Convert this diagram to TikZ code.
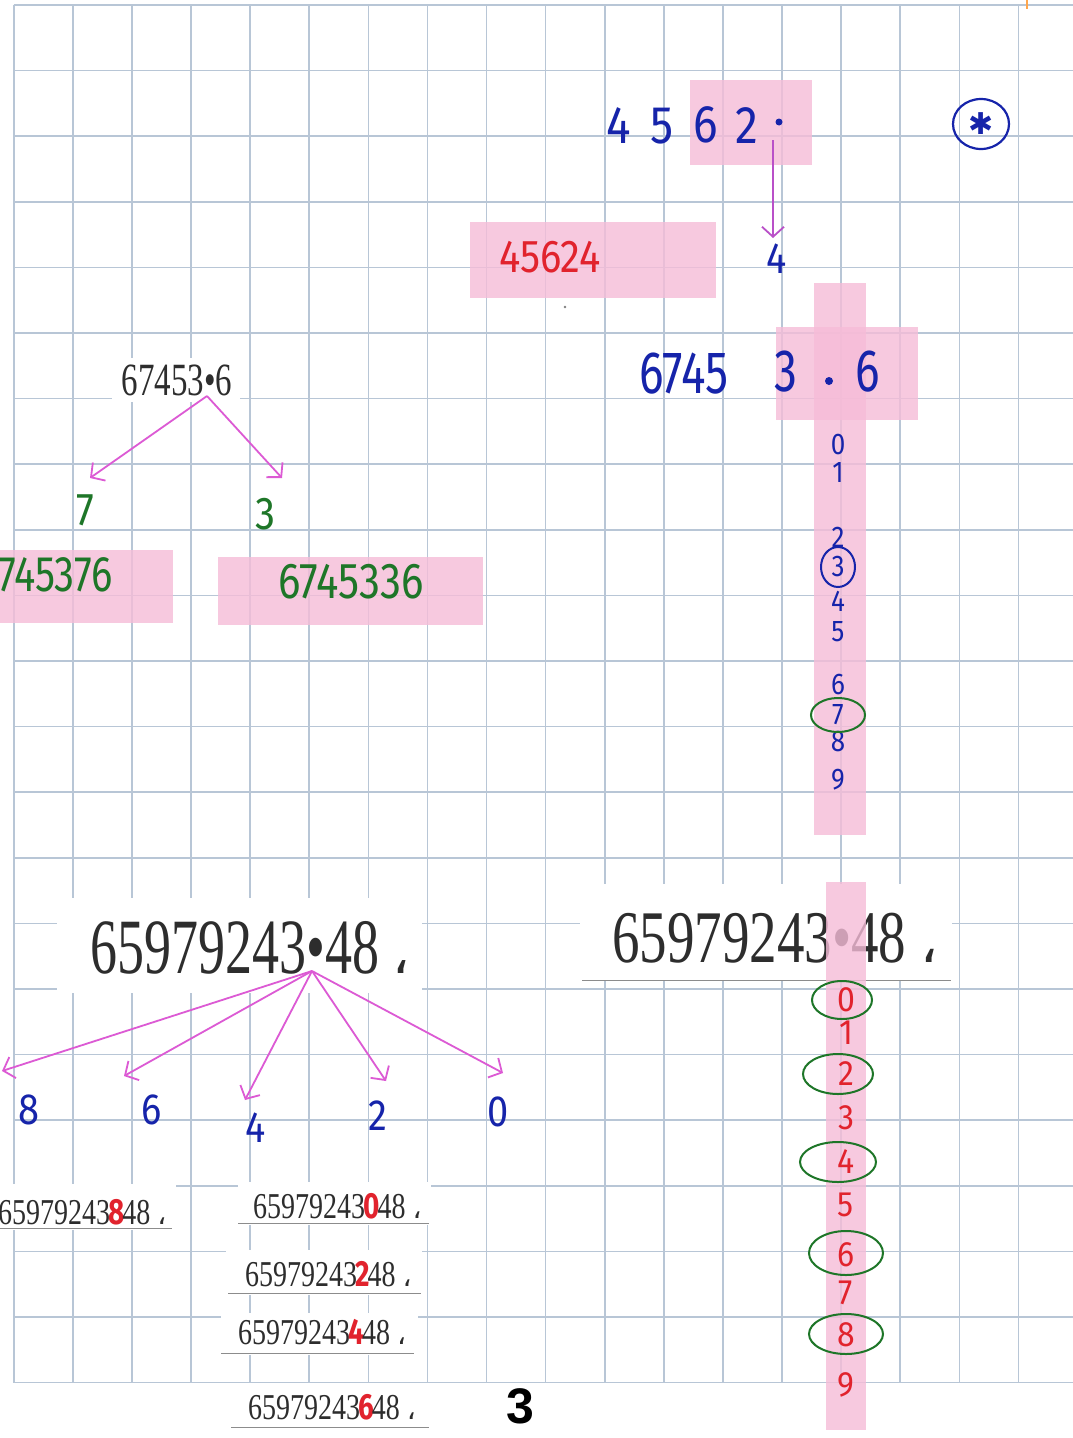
\documentclass[tikz,border=0pt]{standalone}
\usepackage{fontspec}
\usepackage{graphicx}
\usetikzlibrary{arrows.meta,shapes.geometric}
\setmainfont{Liberation Serif}
\newfontfamily\hwf{Fira Sans}
\newfontfamily\arabicfont[Script=Arabic]{DejaVu Sans}
\newfontfamily\symf{DejaVu Sans}
\newfontfamily\pagef{Liberation Sans}
\TeXXeTstate=1
\newcommand\vst[2]{\scalebox{1}[#1]{#2}}
\definecolor{gridc}{RGB}{184,198,214}
\definecolor{pinkhl}{RGB}{246,188,216}
\definecolor{hwblue}{RGB}{22,36,170}
\definecolor{hwgreen}{RGB}{30,118,40}
\definecolor{hwred}{RGB}{225,35,45}
\definecolor{arrc}{RGB}{220,90,212}
\definecolor{arrtop}{RGB}{185,80,200}
\definecolor{printc}{RGB}{45,45,45}
\tikzset{
  gridline/.style={draw=gridc, line width=1.6pt},
  hl/.style={fill=pinkhl, fill opacity=0.8},
  patch/.style={fill=white},
  uline/.style={draw=black!45, line width=0.9pt},
  arr/.style={draw=arrc, line width=1.8pt, -{Straight Barb[length=10pt,width=22pt]}},
  hand/.style={inner sep=0, font=\hwf\fontsize{#1}{#1}\selectfont},
  printed/.style={inner sep=0, anchor=base west, text=printc, font=\fontsize{#1}{#1}\selectfont},
  ring/.style={line width=2pt},
}
\begin{document}
\begin{tikzpicture}[x=1pt,y=-1pt]
\useasboundingbox (0,0) rectangle (1073,1438);
\fill[white] (0,0) rectangle (1073,1438);
% grid
\foreach \i in {0,...,17} \draw[gridline] ({13.7+59.1*\i},5) -- ({13.7+59.1*\i},1383);
\foreach \j in {0,...,21} \draw[gridline] (13.7,{5+65.6*\j}) -- (1073,{5+65.6*\j});
\draw[orange!70, line width=1.5pt] (1027,0) -- (1027,9);

% white patches of pasted prints
\fill[patch] (112,358) rectangle (240,402);
\fill[patch] (57,898) rectangle (422,993);
\fill[patch] (580,884) rectangle (952,980);
\fill[patch] (0,1184) rectangle (176,1230);
\fill[patch] (238,1182) rectangle (431,1225);
\fill[patch] (226,1250) rectangle (422,1295);
\fill[patch] (221,1313) rectangle (418,1355);
\fill[patch] (231,1388) rectangle (429,1432);

% printed texts
\node[inner sep=0, text=printc, font=\fontsize{33}{33}\selectfont] (p1) at (177,380) {\vst{1.4}{67453•6}};
\node[printed=54] (big1) at (90,973) {\vst{1.45}{65979243•48}\ {\arabicfont\beginR ،\endR}};
\node[printed=55] (big2) at (612,962) {\vst{1.35}{65979243•48}\ {\arabicfont\beginR ،\endR}};
\draw[uline] (582,980) -- (951,980);

\node[printed=28] (s8) at (-2,1224) {\vst{1.3}{65979243\kern-2pt\textcolor{hwred}{\hwf\bfseries 8}\kern-2pt 48}\ {\arabicfont\beginR ،\endR}};
\node[printed=28] (s0) at (253,1218) {\vst{1.3}{65979243\kern-2pt\textcolor{hwred}{\hwf\bfseries 0}\kern-2pt 48}\ {\arabicfont\beginR ،\endR}};
\node[printed=28] (s2) at (245,1286) {\vst{1.3}{65979243\kern-2pt\textcolor{hwred}{\hwf\bfseries 2}\kern-2pt 48}\ {\arabicfont\beginR ،\endR}};
\node[printed=28] (s4) at (238,1344) {\vst{1.3}{65979243\kern-2pt\textcolor{hwred}{\hwf\bfseries 4}\kern-2pt 48}\ {\arabicfont\beginR ،\endR}};
\node[printed=28] (s6) at (248,1419) {\vst{1.3}{65979243\kern-2pt\textcolor{hwred}{\hwf\bfseries 6}\kern-2pt 48}\ {\arabicfont\beginR ،\endR}};
\draw[uline] (0,1228) -- (172,1228);
\draw[uline] (238,1223) -- (429,1223);
\draw[uline] (228,1293) -- (421,1293);
\draw[uline] (221,1353) -- (414,1353);
\draw[uline] (231,1427) -- (429,1427);

% pink highlights
\fill[hl] (690,80) rectangle (812,165);
\fill[hl] (470,222) rectangle (716,298);
\fill[hl] (776,327) rectangle (918,420);
\fill[hl] (814,283) rectangle (866,835);
\fill[hl] (0,550) rectangle (173,623);
\fill[hl] (218,557) rectangle (483,625);
\fill[hl] (826,882) rectangle (866,1430);

% top right: 4562.
\node[hand=46, text=hwblue] (t4) at (619,126) {\vst{1.15}{4}};
\node[hand=46, text=hwblue] (t5) at (662,126) {\vst{1.15}{5}};
\node[hand=46, text=hwblue] (t6) at (706,125) {\vst{1.15}{6}};
\node[hand=46, text=hwblue] (t2) at (747,126) {\vst{1.15}{2}};
\node[circle, fill=hwblue, inner sep=0, minimum size=7pt] (tdot) at (779,122) {};
\coordinate (a0s) at (773,140);
\coordinate (a0e) at (773,238);
\draw[arr, draw=arrtop] (a0s) -- (a0e);
\node[hand=38, text=hwblue] (q4) at (777,259) {\vst{1.15}{4}};
\draw[hwblue, line width=2.2pt] (981,124) ellipse [x radius=28, y radius=25];
\node[inner sep=0, text=hwblue, font=\symf\fontsize{30}{30}\selectfont] (star) at (981,124) {✱};

% red 45624
\node[hand=40, text=hwred] (r45624) at (550,257) {\vst{1.15}{45624}};
\fill[gray] (565,307) circle (1.3);

% 67453.6 handwritten
\node[hand=46, text=hwblue] (b6745) at (684,374) {\vst{1.3}{6745}};
\node[hand=46, text=hwblue] (b3) at (786,372) {\vst{1.3}{3}};
\node[circle, fill=hwblue, inner sep=0, minimum size=8pt] (bdot) at (829,381) {};
\node[hand=46, text=hwblue] (b6) at (868,372) {\vst{1.3}{6}};
\foreach \d/\yy in {0/445,1/472,2/537,3/567,4/601,5/632,6/685,7/715,8/742,9/780}
  \node[hand=26, text=hwblue] (u\d) at (838,\yy) {\vst{1.15}{\d}};
\draw[ring, hwblue] (u3) ellipse [x radius=17, y radius=20];
\draw[ring, hwgreen] (u7) ellipse [x radius=27, y radius=17];

% left tree
\coordinate (p1s) at (207,396);
\coordinate (p1l) at (90,478);
\coordinate (p1r) at (282,478);
\draw[arr] (p1s) -- (p1l);
\draw[arr] (p1s) -- (p1r);
\node[hand=40, text=hwgreen] (g7) at (85,510) {\vst{1.15}{7}};
\node[hand=40, text=hwgreen] (g3) at (265,514) {\vst{1.15}{3}};
\node[hand=40, text=hwgreen, anchor=east] (g745376) at (113,575) {\vst{1.25}{745376}};
\node[hand=42, text=hwgreen] (g6745336) at (351,582) {\vst{1.2}{6745336}};

% bottom left tree
\coordinate (ps) at (312,971);
\coordinate (e8) at (2,1071);
\coordinate (e6) at (124,1076);
\coordinate (e4) at (245,1100);
\coordinate (e2) at (386,1081);
\coordinate (e0) at (503,1073);
\foreach \e in {e8,e6,e4,e2,e0} \draw[arr] (ps) -- (\e);
\node[hand=38, text=hwblue] (l8) at (29,1110) {\vst{1.15}{8}};
\node[hand=38, text=hwblue] (l6) at (152,1110) {\vst{1.15}{6}};
\node[hand=38, text=hwblue] (l4) at (256,1128) {\vst{1.15}{4}};
\node[hand=38, text=hwblue] (l2) at (378,1116) {\vst{1.15}{2}};
\node[hand=38, text=hwblue] (l0) at (498,1112) {\vst{1.15}{0}};

% bottom right column
\foreach \d/\yy in {0/1000,1/1033,2/1074,3/1118,4/1162,5/1205,6/1255,7/1293,8/1335,9/1385}
  \node[hand=32, text=hwred] (v\d) at (846,\yy) {\vst{1.1}{\d}};
\draw[ring, hwgreen] (842,1000) ellipse [x radius=30, y radius=19];
\draw[ring, hwgreen] (838,1074) ellipse [x radius=35, y radius=20];
\draw[ring, hwgreen] (838,1162) ellipse [x radius=38, y radius=20];
\draw[ring, hwgreen] (846,1253) ellipse [x radius=37, y radius=22];
\draw[ring, hwgreen] (846,1334) ellipse [x radius=37, y radius=20];

% page number
\node[inner sep=0, font=\pagef\bfseries\fontsize{50}{50}\selectfont] (pg) at (520,1406) {3};
\end{tikzpicture}
\end{document}
